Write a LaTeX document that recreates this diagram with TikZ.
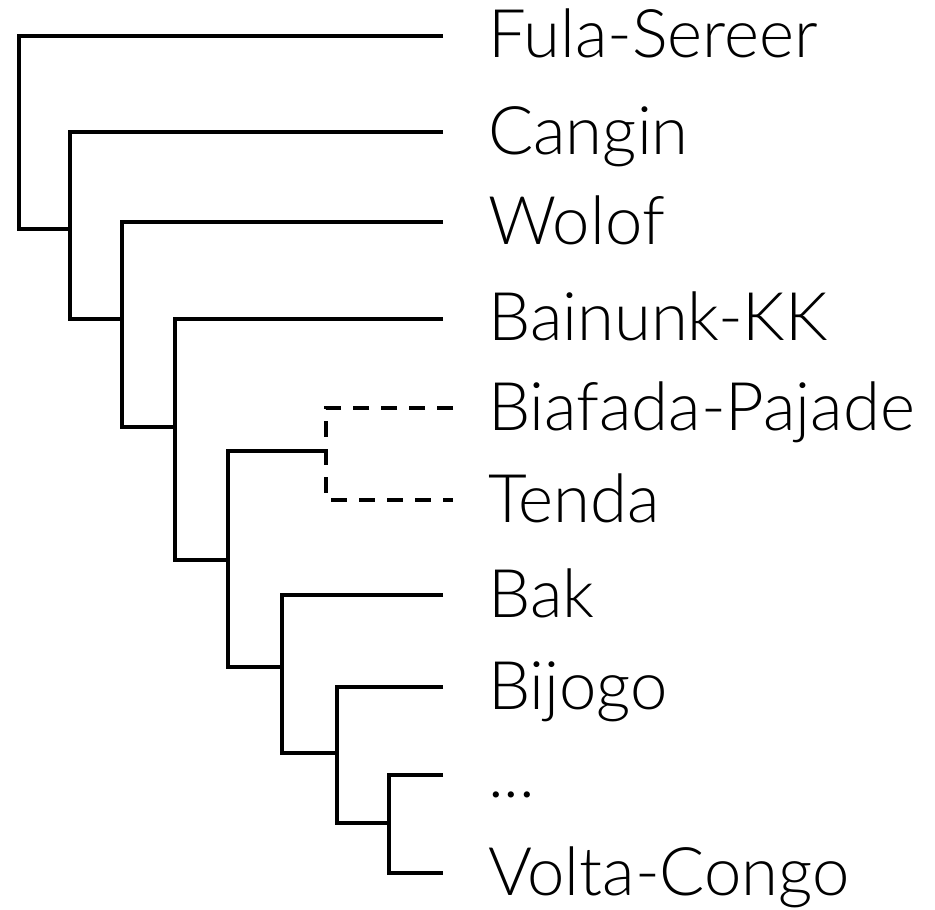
\documentclass[tikz,border=0pt]{standalone}
\usepackage{fontspec}
\setmainfont{Lato}[UprightFont=* Light]
\begin{document}
\begin{tikzpicture}[x=1pt,y=-1pt,
  branch/.style={line width=4pt,line join=miter,line cap=butt},
  unsure/.style={branch,dash pattern=on 16pt off 12pt},
  taxon/.style={anchor=base west,inner sep=0pt,font=\fontsize{67}{67}\selectfont}]
\useasboundingbox (0,0) rectangle (935,910);

% leaf tips (y of each taxon line)
\coordinate (t1) at (443,35.5);
\coordinate (t2) at (443,132);
\coordinate (t3) at (443,222);
\coordinate (t4) at (443,318.5);
\coordinate (t5) at (453,408);
\coordinate (t6) at (453,500);
\coordinate (t7) at (443,595);
\coordinate (t8) at (443,687);
\coordinate (t9) at (443,775);
\coordinate (t10) at (443,873);

% internal nodes (where the parent branch meets them)
\coordinate (r0) at (18.7,132);
\coordinate (n1) at (70,229);
\coordinate (n2) at (122,319);
\coordinate (n3) at (175,427);
\coordinate (n4) at (228,560);
\coordinate (n5) at (326,451);
\coordinate (n6) at (282,667);
\coordinate (n7) at (337,753);
\coordinate (n8) at (389,823);

% taxon labels
\node[taxon] (l1) at (488,35.5+22) {Fula-Sereer};
\node[taxon] (l2) at (488,132+22) {Cangin};
\node[taxon] (l3) at (488,222+22) {Wolof};
\node[taxon] (l4) at (488,318.5+22) {Bainunk-KK};
\node[taxon] (l5) at (488,408+22) {Biafada-Pajade};
\node[taxon] (l6) at (488,500+22) {Tenda};
\node[taxon] (l7) at (488,595+22) {Bak};
\node[taxon] (l8) at (488,687+22) {Bijogo};
\node[taxon] (l9) at (488,775+22) {...};
\node[taxon] (l10) at (488,873+22) {Volta-Congo};

% branches
\draw[branch] (t1) -| (r0) |- (n1);
\draw[branch] (t2) -| (n1) |- (n2);
\draw[branch] (t3) -| (n2) |- (n3);
\draw[branch] (t4) -| (n3) |- (n4);
\draw[branch] (n5) -| (n4) |- (n6);
\draw[unsure] (t5) -| (n5) |- (t6);
\draw[branch] (t7) -| (n6) |- (n7);
\draw[branch] (t8) -| (n7) |- (n8);
\draw[branch] (t9) -| (n8) |- (t10);
\end{tikzpicture}
\end{document}
